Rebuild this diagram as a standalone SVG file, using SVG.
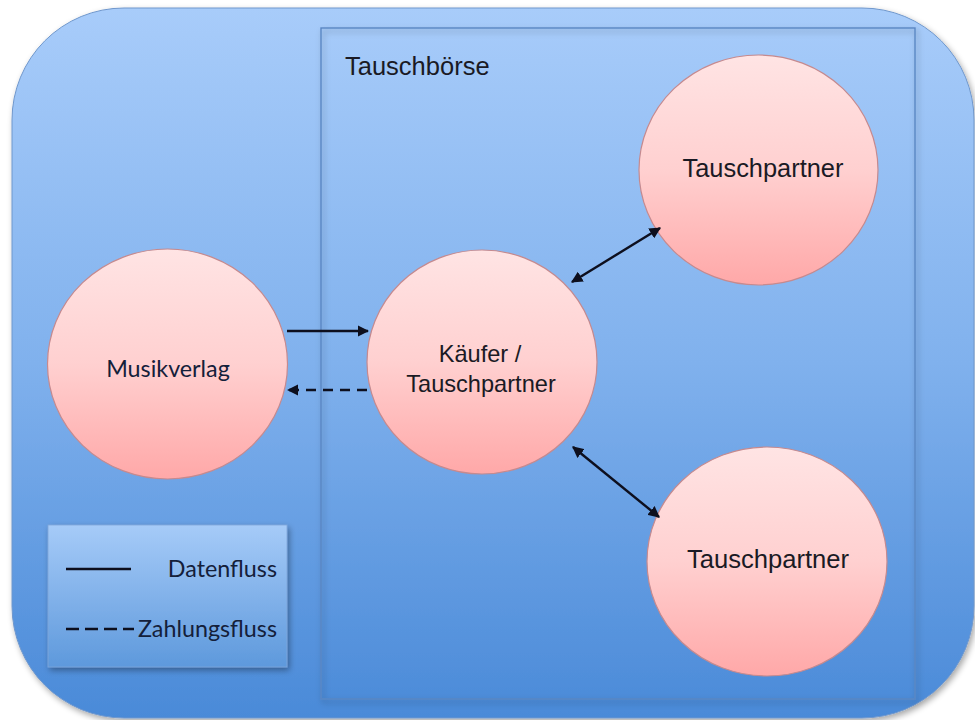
<svg xmlns="http://www.w3.org/2000/svg" width="975" height="720" viewBox="0 0 975 720">
  <defs>
    <linearGradient id="bgGrad" x1="0" y1="0" x2="0" y2="1">
      <stop offset="0" stop-color="#a8ccfa"/>
      <stop offset="0.5" stop-color="#80b1ed"/>
      <stop offset="1" stop-color="#4a8ad8"/>
    </linearGradient>
    <linearGradient id="legendGrad" x1="0" y1="0" x2="0" y2="1">
      <stop offset="0" stop-color="#a6cbf8"/>
      <stop offset="1" stop-color="#5e99dc"/>
    </linearGradient>
    <linearGradient id="nodeGrad" x1="0" y1="0" x2="0" y2="1">
      <stop offset="0" stop-color="#ffe4e4"/>
      <stop offset="0.5" stop-color="#ffd0d0"/>
      <stop offset="1" stop-color="#ffa8a8"/>
    </linearGradient>
    <filter id="shadow" x="-5%" y="-5%" width="115%" height="115%">
      <feGaussianBlur in="SourceAlpha" stdDeviation="3"/>
      <feOffset dx="2" dy="3" result="off"/>
      <feComponentTransfer><feFuncA type="linear" slope="0.35"/></feComponentTransfer>
      <feMerge><feMergeNode/><feMergeNode in="SourceGraphic"/></feMerge>
    </filter>
    <marker id="arrow" viewBox="0 0 10 10" refX="9" refY="5" markerWidth="4.8" markerHeight="4.8" orient="auto-start-reverse" markerUnits="strokeWidth">
      <path d="M0,0 L10,5 L0,10 z" fill="#0d0f1e"/>
    </marker>
  </defs>
  <style>
    .node { fill: url(#nodeGrad); stroke: #c58a8f; stroke-width: 1.2; }
    .arial { font-family: "Liberation Sans", Arial, sans-serif; fill: #1a1a24; }
    .soft { font-family: Lato, "Open Sans", sans-serif; fill: #14203a; }
    .flow { stroke: #0d0f1e; stroke-width: 2.4; fill: none; }
    .dash { stroke-dasharray: 10 7; }
  </style>

  <rect width="975" height="720" fill="#ffffff"/>

  <!-- outer area -->
  <rect id="area" x="12" y="8" width="962" height="710" rx="112" ry="112" fill="url(#bgGrad)" stroke="#6f97cc" stroke-width="1" filter="url(#shadow)"/>

  <!-- exchange platform frame -->
  <g id="tauschboerse">
    <rect x="321" y="28" width="594" height="671" fill="none" stroke="#5a86c2" stroke-width="1.4" filter="url(#shadow)"/>
    <text class="arial" x="345" y="75" font-size="25.5">Tauschbörse</text>
  </g>

  <!-- legend -->
  <g id="legend">
    <rect x="48" y="525" width="239" height="142" fill="url(#legendGrad)" stroke="#7fa6d8" stroke-width="0.8" filter="url(#shadow)"/>
    <line class="flow" x1="66" y1="569" x2="131" y2="569"/>
    <text class="soft" x="277" y="577" font-size="23.3" text-anchor="end">Datenfluss</text>
    <line class="flow" x1="66" y1="629" x2="134" y2="629" stroke-dasharray="13 6"/>
    <text class="soft" x="277" y="637" font-size="23.3" text-anchor="end">Zahlungsfluss</text>
  </g>

  <g id="musikverlag">
    <ellipse class="node" cx="167.5" cy="364" rx="120" ry="115"/>
    <text class="soft" x="168" y="377" font-size="23.3" text-anchor="middle">Musikverlag</text>
  </g>

  <g id="kaeufer">
    <ellipse class="node" cx="482" cy="362" rx="115" ry="112"/>
    <text class="arial" x="480" y="362" font-size="23.6" text-anchor="middle">Käufer /</text>
    <text class="arial" x="481" y="392" font-size="23.6" text-anchor="middle">Tauschpartner</text>
  </g>

  <g id="tauschpartner-oben">
    <ellipse class="node" cx="758.5" cy="170" rx="119.5" ry="115"/>
    <text class="arial" x="763" y="177" font-size="25.4" text-anchor="middle">Tauschpartner</text>
  </g>

  <g id="tauschpartner-unten">
    <ellipse class="node" cx="767" cy="561.5" rx="120" ry="114.5"/>
    <text class="arial" x="768" y="568" font-size="25.6" text-anchor="middle">Tauschpartner</text>
  </g>

  <g id="connectors">
    <line class="flow" x1="287" y1="331" x2="368" y2="331" marker-end="url(#arrow)"/>
    <line class="flow dash" x1="367" y1="390" x2="288" y2="390" marker-end="url(#arrow)"/>
    <line class="flow" x1="572" y1="282" x2="660" y2="228" stroke-width="2" marker-start="url(#arrow)" marker-end="url(#arrow)"/>
    <line class="flow" x1="573" y1="447" x2="659" y2="517" stroke-width="2" marker-start="url(#arrow)" marker-end="url(#arrow)"/>
  </g>
</svg>
